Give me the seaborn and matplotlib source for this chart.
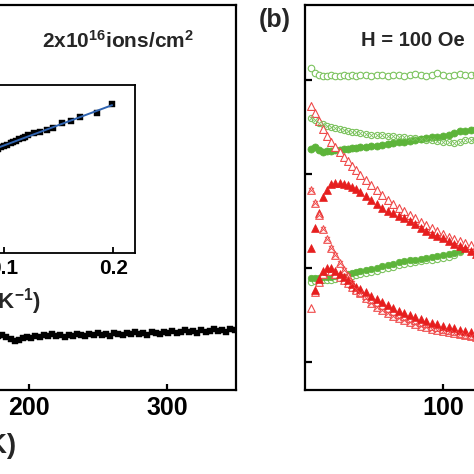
import numpy as np
import seaborn as sns
import matplotlib.pyplot as plt

nan = np.nan

# ---- panel (a), main curve: signal vs T (K)
temp_a = [178, 181, 184, 187, 190, 193, 196, 199, 202, 205,
          208, 211, 214, 217, 220, 223, 226, 229, 232, 235,
          238, 241, 244, 247, 250, 253, 256, 259, 262, 265,
          268, 271, 274, 277, 280, 283, 286, 289, 292, 295,
          298, 301, 304, 307, 310, 313, 316, 319, 322, 325,
          328, 331, 334, 337, 340, 343, 346, 349, 352]
signal_a = [0.54, 0.55, 0.53, 0.51, 0.49, 0.50, 0.52, 0.53, 0.52, 0.54,
            0.53, 0.55, 0.54, 0.56, 0.54, 0.55, 0.53, 0.55, 0.54, 0.56,
            0.55, 0.54, 0.56, 0.55, 0.57, 0.55, 0.56, 0.54, 0.57, 0.56,
            0.55, 0.57, 0.56, 0.58, 0.56, 0.57, 0.55, 0.58, 0.57, 0.56,
            0.58, 0.57, 0.59, 0.57, 0.58, 0.60, 0.58, 0.59, 0.57, 0.60,
            0.58, 0.59, 0.61, 0.59, 0.60, 0.58, 0.61, 0.60, 0.62]

# ---- panel (a), inset: vs 1/T
inv_temp = [0.090, 0.094, 0.097, 0.100, 0.103, 0.106, 0.108, 0.111, 0.114, 0.117,
            0.119, 0.122, 0.127, 0.133, 0.139, 0.145, 0.153, 0.161, 0.170, 0.185, 0.199]
inset_val = [1.03, 1.045, 1.06, 1.07, 1.08, 1.10, 1.11, 1.12, 1.14, 1.15,
             1.16, 1.18, 1.20, 1.21, 1.23, 1.25, 1.30, 1.32, 1.36, 1.40, 1.49]

# ---- panel (b), H = 100 Oe
temp_b = [4, 7, 10, 13, 16, 19, 22, 25, 28, 31, 34, 37, 40, 44, 48, 52, 56,
          60, 64, 68, 72, 76, 80, 84, 88, 92, 96, 100, 104, 108, 112, 116, 120, 124]
green_open_top = [3.13, 3.07, 3.05, 3.04, 3.04, 3.05, 3.04, 3.04, 3.05, 3.04, 3.05, 3.04,
                  3.05, 3.05, 3.04, 3.05, 3.05, 3.04, 3.05, 3.05, 3.04, 3.05, 3.06, 3.05,
                  3.04, 3.05, 3.07, 3.05, 3.04, 3.05, 3.06, 3.05, 3.05, 3.06]
green_cross_up = [2.60, 2.57, 2.54, 2.53, 2.51, 2.50, 2.49, 2.48, 2.47, 2.46, 2.45, 2.45,
                  2.44, 2.43, 2.42, 2.42, 2.41, 2.40, 2.40, 2.39, 2.39, 2.38, 2.38, 2.37,
                  2.36, 2.36, 2.35, 2.34, 2.34, 2.33, 2.34, 2.36, 2.36, 2.37]
green_fill_up = [2.27, 2.29, 2.26, 2.23, 2.24, 2.25, 2.26, 2.26, 2.27, 2.27, 2.28, 2.28,
                 2.29, 2.29, 2.30, 2.30, 2.31, 2.32, 2.33, 2.34, 2.34, 2.35, 2.36, 2.37,
                 2.38, 2.39, 2.39, 2.40, 2.42, 2.44, 2.46, 2.46, 2.47, 2.48]
red_open_up = [2.72, 2.65, 2.56, 2.48, 2.40, 2.34, 2.29, 2.23, 2.18, 2.14, 2.09, 2.04,
               1.99, 1.94, 1.88, 1.83, 1.78, 1.72, 1.68, 1.64, 1.61, 1.56, 1.53, 1.49,
               1.46, 1.43, 1.39, 1.36, 1.33, 1.31, 1.29, 1.27, 1.24, 1.22]
red_fill_up = [1.21, 1.43, 1.59, 1.76, 1.83, 1.89, 1.90, 1.90, 1.89, 1.88, 1.86, 1.84,
               1.81, 1.77, 1.72, 1.68, 1.64, 1.61, 1.59, 1.55, 1.53, 1.50, 1.47, 1.43,
               1.39, 1.36, 1.34, 1.32, 1.29, 1.26, 1.23, 1.21, 1.18, 1.15]
red_cross = [1.83, 1.69, 1.56, 1.41, 1.31, 1.21, 1.14, 1.05, 0.98, 0.91, 0.84, 0.78,
             0.73, 0.68, 0.63, 0.59, 0.55, 0.52, 0.49, 0.47, 0.45, 0.43, 0.40, 0.38,
             0.37, 0.35, 0.34, 0.33, 0.32, 0.31, 0.30, 0.29, 0.28, 0.27]
red_fill_low = [nan, 0.77, 0.88, 0.97, 1.00, 1.00, 0.97, 0.94, 0.90, 0.87, 0.83, 0.80,
                0.78, 0.74, 0.70, 0.67, 0.64, 0.61, 0.57, 0.54, 0.52, 0.50, 0.48, 0.46,
                0.44, 0.41, 0.40, 0.38, 0.37, 0.36, 0.34, 0.33, 0.32, 0.31]
red_open_low = [0.57, 0.74, 0.85, 0.94, 0.97, 0.97, 0.94, 0.90, 0.87, 0.84, 0.80, 0.77,
                0.74, 0.71, 0.67, 0.64, 0.61, 0.57, 0.54, 0.51, 0.49, 0.47, 0.45, 0.43,
                0.41, 0.38, 0.37, 0.35, 0.34, 0.33, 0.31, 0.30, 0.29, 0.28]
green_fill_low = [0.89, 0.89, 0.89, 0.90, 0.90, 0.90, 0.91, 0.92, 0.93, 0.94, 0.95, 0.96,
                  0.97, 0.98, 0.99, 1.00, 1.02, 1.03, 1.04, 1.06, 1.07, 1.08, 1.09, 1.10,
                  1.11, 1.12, 1.13, 1.14, 1.15, 1.16, 1.18, nan, nan, nan]
green_open_low = [0.85, 0.86, 0.86, 0.87, 0.87, 0.87, 0.88, 0.89, 0.90, 0.91, 0.92, 0.93,
                  0.94, 0.95, 0.96, 0.97, 0.99, 1.00, 1.01, 1.03, 1.04, 1.05, 1.06, 1.07,
                  1.08, 1.09, 1.10, 1.11, 1.12, 1.14, 1.17, 1.21, nan, nan]

GREEN = "#5db43a"
GREEN_LIGHT = "#7cc35e"
RED = "#e61e1e"
RED_LIGHT = "#ef4a4a"

sns.set_style("ticks")
plt.rcParams["font.family"] = ["Liberation Sans", "DejaVu Sans"]
plt.rcParams["font.weight"] = "bold"
plt.rcParams["mathtext.fontset"] = "custom"
plt.rcParams["mathtext.rm"] = "Liberation Sans:bold"
plt.rcParams["mathtext.it"] = "Liberation Sans:bold"
plt.rcParams["mathtext.bf"] = "Liberation Sans:bold"
plt.rcParams["mathtext.sf"] = "Liberation Sans:bold"

W = 474.0


def box(left, top, right, bottom):
    # pixel box -> figure fraction [l, b, w, h]
    return [left / W, 1 - bottom / W, (right - left) / W, (bottom - top) / W]


def dots(ax, x, y, marker, size, face, edge, lw=0.8, z=3):
    sns.scatterplot(x=x, y=y, ax=ax, marker=marker, s=size, facecolor=face,
                    edgecolor=edge, linewidth=lw, zorder=z, legend=False)


def cross(ax, x, y, size, color, lw=0.6, z=4):
    sns.scatterplot(x=x, y=y, ax=ax, marker="x", s=size, color=color,
                    linewidth=lw, zorder=z, legend=False)


def style(ax, lw=1.6, length=4.5):
    for sp in ax.spines.values():
        sp.set_visible(True)
        sp.set_linewidth(lw)
        sp.set_color("black")
    ax.tick_params(direction="in", width=lw, length=length, colors="black")
    ax.set_xlabel("")
    ax.set_ylabel("")


fig = plt.figure(figsize=(4.74, 4.74), dpi=100)

# ---- (a) main
ax_a = fig.add_axes(box(-248, 5, 236, 390))
dots(ax_a, temp_a, signal_a, "s", 22, "black", "black", lw=0.3)
ax_a.set_xlim(0, 350)
ax_a.set_ylim(0, 3.85)
style(ax_a)
ax_a.set_xticks([200, 300])
ax_a.set_yticks([])
ax_a.tick_params(axis="x", labelsize=18, pad=4)

# ---- (a) inset
ax_in = fig.add_axes(box(-105, 85, 135, 253))
dots(ax_in, inv_temp, inset_val, "s", 18, "black", "black", lw=0.3)
sns.regplot(x=inv_temp, y=inset_val, ax=ax_in, scatter=False, ci=None,
            line_kws={"color": "#2f63b0", "lw": 1.4, "zorder": 5})
ax_in.set_xlim(0, 0.22)
ax_in.set_ylim(0, 1.68)
style(ax_in, lw=1.3, length=4)
ax_in.set_xticks([0.1, 0.2])
ax_in.set_xticklabels(["0.1", "0.2"])
ax_in.set_yticks([])
ax_in.tick_params(axis="x", labelsize=15, pad=4)

# ---- (b)
ax_b = fig.add_axes(box(305, 5, 788, 390))
dots(ax_b, temp_b, green_open_top, "o", 22, "white", GREEN_LIGHT)
dots(ax_b, temp_b, green_cross_up, "o", 20, "white", GREEN_LIGHT)
cross(ax_b, temp_b, green_cross_up, 10, GREEN_LIGHT)
dots(ax_b, temp_b, green_fill_up, "o", 26, GREEN, GREEN, lw=0.5)
dots(ax_b, temp_b, green_open_low, "o", 20, "white", GREEN_LIGHT)
dots(ax_b, temp_b, green_fill_low, "o", 22, GREEN, GREEN, lw=0.5)
dots(ax_b, temp_b, red_open_up, "^", 32, "white", RED_LIGHT)
dots(ax_b, temp_b, red_fill_up, "^", 32, RED, RED, lw=0.5)
dots(ax_b, temp_b, red_cross, "^", 30, "white", RED_LIGHT)
cross(ax_b, temp_b, red_cross, 14, RED_LIGHT)
dots(ax_b, temp_b, red_open_low, "^", 30, "white", RED_LIGHT)
dots(ax_b, temp_b, red_fill_low, "^", 32, RED, RED, lw=0.5)
ax_b.set_xlim(0, 350)
ax_b.set_ylim(-0.298, 3.798)
style(ax_b)
ax_b.set_xticks([100])
ax_b.set_yticks([0, 1, 2, 3])
ax_b.set_yticklabels([])
ax_b.tick_params(axis="x", labelsize=18, pad=4)
ax_b.tick_params(axis="y", length=5)

for lab in ax_a.get_xticklabels() + ax_b.get_xticklabels() + ax_in.get_xticklabels():
    lab.set_fontweight("bold")

# ---- labels
def put(x, y, s, size, ha="center"):
    fig.text(x / W, 1 - y / W, s, fontsize=size, fontweight="bold",
             ha=ha, va="center")


put(118, 41, "2x10$^{16}$ions/cm$^{2}$", 15)
put(413, 40, "H = 100 Oe", 14.5)
put(275, 20, "(b)", 18)
put(41, 302, "1/T (K$^{-1}$)", 16, ha="right")
put(16, 446, "T (K)", 20, ha="right")

fig.savefig("out.png", dpi=100)
